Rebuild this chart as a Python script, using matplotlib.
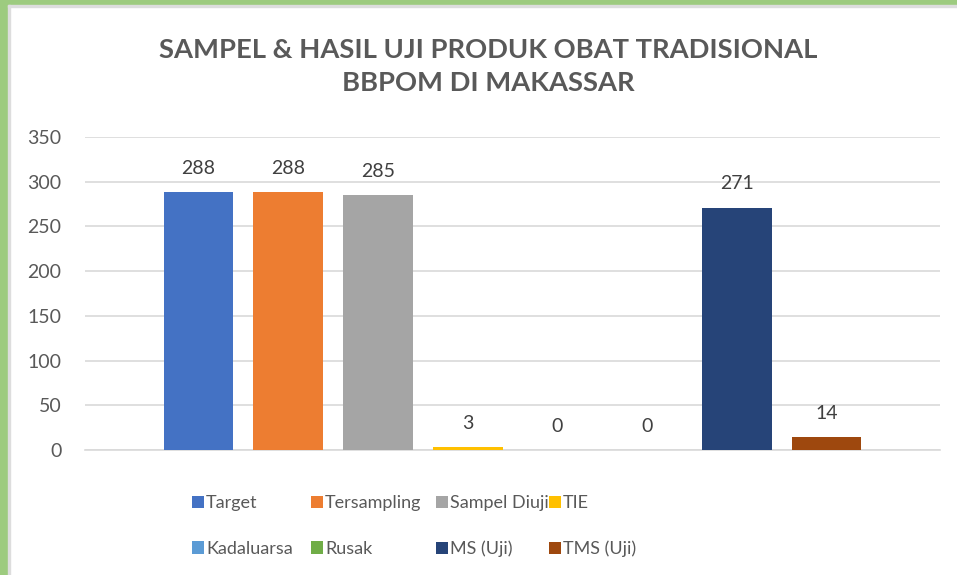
import matplotlib.pyplot as plt
from matplotlib.patches import Rectangle

# Data
labels = ["Target", "Tersampling", "Sampel Diuji", "TIE",
          "Kadaluarsa", "Rusak", "MS (Uji)", "TMS (Uji)"]
values = [288, 288, 285, 3, 0, 0, 271, 14]
colors = ["#4472C4", "#ED7D31", "#A5A5A5", "#FFC000",
          "#5B9BD5", "#70AD47", "#264478", "#9E480E"]
yticks = [0, 50, 100, 150, 200, 250, 300, 350]

plt.rcParams['font.family'] = ['Lato', 'DejaVu Sans']
txt = "#595959"

fig = plt.figure(figsize=(9.57, 5.75), dpi=100)
ax = fig.add_axes([85 / 957, 125 / 575, 855 / 957, 313 / 575])

# green frame (left and top edges)
fig.patches.append(Rectangle((0, 0), 8 / 957, 1, transform=fig.transFigure,
                             color="#9DCB7F", zorder=0))
fig.patches.append(Rectangle((0, 1 - 5 / 575), 1, 5 / 575, transform=fig.transFigure,
                             color="#9DCB7F", zorder=0))
fig.patches.append(Rectangle((8 / 957, 0), 2 / 957, 1 - 5 / 575, transform=fig.transFigure,
                             color="#DDDDDD", zorder=0))
fig.patches.append(Rectangle((8 / 957, 1 - 7 / 575), 1, 2 / 575, transform=fig.transFigure,
                             color="#DDDDDD", zorder=0))

bars = []
for i, (lab, v, c) in enumerate(zip(labels, values, colors)):
    b = ax.bar(i, v, width=0.78, color=c, label=lab, zorder=3)
    bars.append(b)
    ax.annotate(str(v), (i, v), xytext=(0, 11), textcoords="offset points",
                ha="center", va="bottom", fontsize=14, color="#404040")

ax.set_xlim(-1.265, 8.265)
ax.set_ylim(0, 350)
ax.set_yticks(yticks)
ax.set_xticks([])
ax.tick_params(axis="y", length=0, labelsize=14, labelcolor=txt, pad=17)
ax.grid(axis="y", color="#D9D9D9", linewidth=1.2, zorder=0)
for s in ["top", "right", "left"]:
    ax.spines[s].set_visible(False)
ax.spines["bottom"].set_color("#D9D9D9")
ax.spines["bottom"].set_linewidth(1.2)

fig.text(0.51, 0.884, "SAMPEL & HASIL UJI PRODUK OBAT TRADISIONAL\nBBPOM DI MAKASSAR",
         ha="center", va="center", fontsize=19.7, fontweight="bold", color=txt,
         linespacing=1.42)

# legend: one small legend per column, like Excel's grid layout
col_x = [183, 302, 427, 540]
for j, x in enumerate(col_x):
    leg = fig.legend([bars[j], bars[j + 4]], [labels[j], labels[j + 4]],
                     loc="upper left", bbox_to_anchor=(x / 957, 1 - 486 / 575),
                     frameon=False, fontsize=13, labelcolor=txt, borderpad=0,
                     handlelength=0.65, handleheight=0.65, handletextpad=0.12,
                     labelspacing=1.65)

fig.savefig("out.png", dpi=100)
